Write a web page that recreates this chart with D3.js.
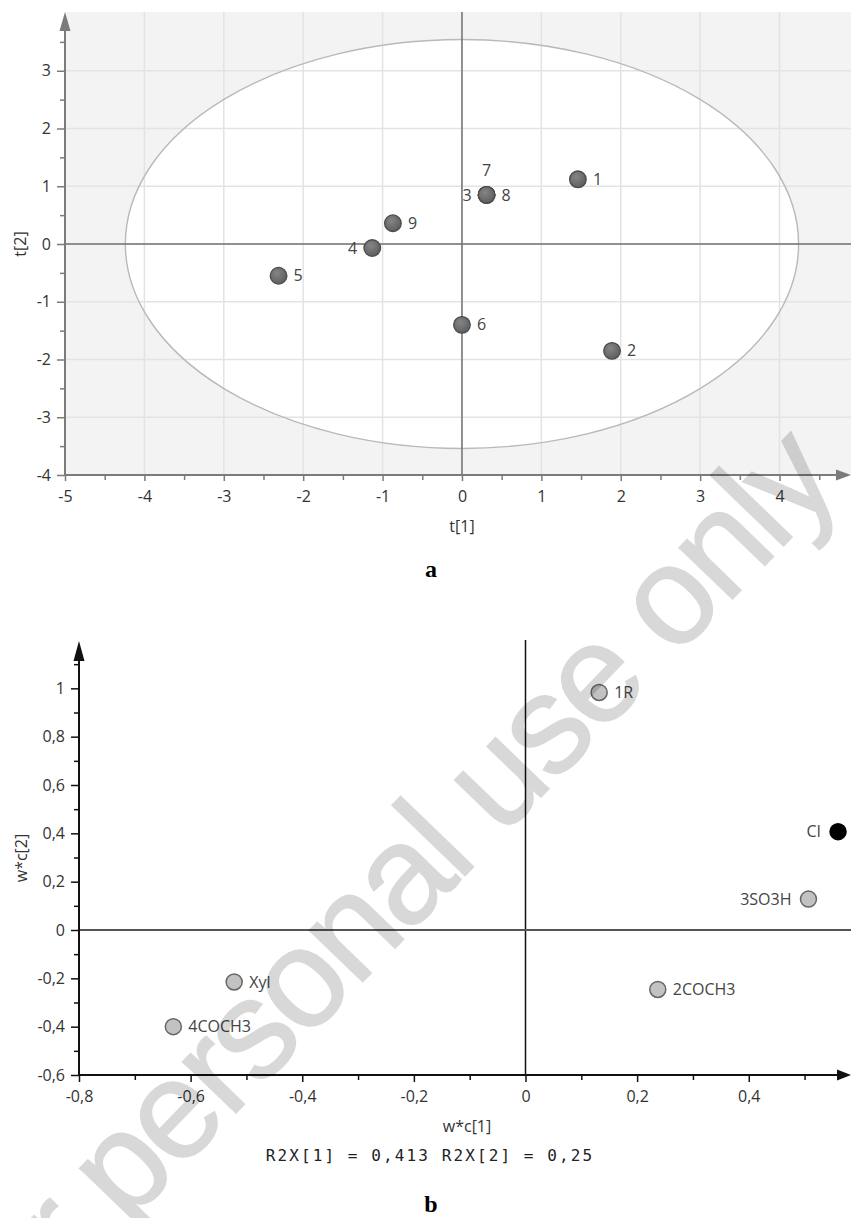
<!DOCTYPE html>
<html>
<head>
<meta charset="utf-8">
<script src="https://cdn.jsdelivr.net/npm/d3@7"></script>
<style>
  html, body { margin: 0; padding: 0; background: #fff; }
  svg { display: block; }
</style>
</head>
<body>
<svg id="chart" width="851" height="1218"></svg>
<script>
// scores plot (a)
const scoreIds = ['1', '2', '3', '4', '5', '6', '7', '8', '9']
const scoreT1 = [1.46, 1.89, 0.31, -1.13, -2.31, 0.0, 0.31, 0.31, -0.87]
const scoreT2 = [1.12, -1.85, 0.85, -0.07, -0.55, -1.40, 0.85, 0.85, 0.36]
const ellipseT1 = 4.24
const ellipseT2 = 3.54
const scoreTicksX = [-5, -4, -3, -2, -1, 0, 1, 2, 3, 4]
const scoreTicksY = [-4, -3, -2, -1, 0, 1, 2, 3]

// loadings plot (b)
const loadingNames = ['1R', 'CI', '3SO3H', '2COCH3', 'Xyl', '4COCH3']
const loadingX = [0.132, 0.56, 0.507, 0.237, -0.522, -0.631]
const loadingY = [0.983, 0.407, 0.128, -0.246, -0.215, -0.40]
const loadingTicksX = [-0.8, -0.6, -0.4, -0.2, 0, 0.2, 0.4]
const loadingTicksY = [-0.6, -0.4, -0.2, 0, 0.2, 0.4, 0.6, 0.8, 1]
const r2x = ['0,413', '0,25']

const FONT = '"Open Sans", "Noto Sans", sans-serif'
const svg = d3.select('#chart')

const fmt = d3.formatLocale({
  decimal: ',', thousands: ' ', grouping: [3], currency: ['', ''], minus: '-'
}).format('.2~f')

function arrowHead(g, x, y, dir, len, half, color) {
  const pts = dir === 'up'
    ? [[x, y], [x - half, y + len], [x + half, y + len]]
    : [[x, y], [x - len, y - half], [x - len, y + half]]
  g.append('path').attr('d', d3.line()(pts) + 'Z').attr('fill', color)
}

function styleAxis(g, lineColor, width) {
  g.select('.domain').remove()
  g.attr('color', lineColor).attr('font-family', FONT).attr('font-size', 16)
  g.selectAll('line').attr('stroke-width', width)
  g.selectAll('text').attr('fill', '#333')
}

function minorTicks(domain, step) {
  const out = []
  for (let v = domain[0]; v <= domain[1] + 1e-9; v += step) out.push(+v.toFixed(3))
  return out
}

// ---------- chart a ----------
function drawScores() {
  const g = svg.append('g')
  const x = d3.scaleLinear().domain([-5, 4.9]).range([65, 851])
  const y = d3.scaleLinear().domain([-4, 4]).range([475, 13])
  const top = 12
  const axisColor = '#7b7b7b'

  g.append('rect')
    .attr('x', x(-5)).attr('y', top)
    .attr('width', x.range()[1] - x(-5)).attr('height', y(-4) - top)
    .attr('fill', '#f3f3f3')

  g.append('ellipse')
    .attr('cx', x(0)).attr('cy', y(0))
    .attr('rx', x(ellipseT1) - x(0)).attr('ry', y(0) - y(ellipseT2))
    .attr('fill', '#fff')

  g.selectAll('line.gx')
    .data(scoreTicksX.slice(1))
    .join('line')
    .attr('x1', (d) => x(d)).attr('x2', (d) => x(d))
    .attr('y1', top).attr('y2', y(-4))
    .attr('stroke', '#e3e3e3').attr('stroke-width', 1.5)

  g.selectAll('line.gy')
    .data(scoreTicksY.slice(1))
    .join('line')
    .attr('x1', x(-5)).attr('x2', x.range()[1])
    .attr('y1', (d) => y(d)).attr('y2', (d) => y(d))
    .attr('stroke', '#e3e3e3').attr('stroke-width', 1.5)

  g.append('ellipse')
    .attr('cx', x(0)).attr('cy', y(0))
    .attr('rx', x(ellipseT1) - x(0)).attr('ry', y(0) - y(ellipseT2))
    .attr('fill', 'none')
    .attr('stroke', '#b9b9b9')
    .attr('stroke-width', 1.4)

  // zero lines
  g.append('line')
    .attr('x1', x(0)).attr('x2', x(0)).attr('y1', top).attr('y2', y(-4))
    .attr('stroke', '#727272').attr('stroke-width', 1.5)
  g.append('line')
    .attr('x1', x(-5)).attr('x2', x.range()[1]).attr('y1', y(0)).attr('y2', y(0))
    .attr('stroke', '#727272').attr('stroke-width', 1.5)

  // axes
  const ya = g.append('g').attr('transform', `translate(${x(-5)},0)`)
    .call(d3.axisLeft(y).tickValues(scoreTicksY).tickSize(8).tickPadding(6).tickFormat(fmt))
  styleAxis(ya, axisColor, 1.5)
  const yb = g.append('g').attr('transform', `translate(${x(-5)},0)`)
    .call(d3.axisLeft(y).tickValues(minorTicks([-3.5, 3.5], 1)).tickSize(5).tickFormat(''))
  styleAxis(yb, axisColor, 1.5)

  const xa = g.append('g').attr('transform', `translate(0,${y(-4)})`)
    .call(d3.axisBottom(x).tickValues(scoreTicksX).tickSize(6).tickPadding(10).tickFormat(fmt))
  styleAxis(xa, axisColor, 1.5)
  const xb = g.append('g').attr('transform', `translate(0,${y(-4)})`)
    .call(d3.axisBottom(x).tickValues(minorTicks([-4.5, 4.5], 1)).tickSize(5).tickFormat(''))
  styleAxis(xb, axisColor, 1.5)

  g.append('line')
    .attr('x1', x(-5)).attr('x2', x(-5)).attr('y1', top + 14).attr('y2', y(-4) + 1)
    .attr('stroke', axisColor).attr('stroke-width', 2)
  g.append('line')
    .attr('x1', x(-5) - 1).attr('x2', 840).attr('y1', y(-4)).attr('y2', y(-4))
    .attr('stroke', axisColor).attr('stroke-width', 2)
  arrowHead(g, x(-5), top, 'up', 19, 5.5, axisColor)
  arrowHead(g, 851, y(-4), 'right', 15, 5.5, axisColor)

  g.append('text')
    .attr('transform', `translate(20,${y(0)}) rotate(-90)`)
    .attr('text-anchor', 'middle').attr('dy', '0.35em')
    .attr('font-family', FONT).attr('font-size', 16).attr('fill', '#333')
    .text('t[2]')
  g.append('text')
    .attr('x', x(0)).attr('y', 526).attr('dy', '0.35em')
    .attr('text-anchor', 'middle')
    .attr('font-family', FONT).attr('font-size', 16).attr('fill', '#333')
    .text('t[1]')

  // points
  const defs = svg.append('defs')
  const grad = defs.append('radialGradient').attr('id', 'darkDot')
    .attr('cx', '40%').attr('cy', '35%').attr('r', '65%')
  grad.append('stop').attr('offset', '0%').attr('stop-color', '#858585')
  grad.append('stop').attr('offset', '100%').attr('stop-color', '#5f5f5f')

  const pts = scoreIds.map((id, i) => ({ id, t1: scoreT1[i], t2: scoreT2[i] }))
  g.selectAll('circle.pt')
    .data(pts)
    .join('circle')
    .attr('cx', (d) => x(d.t1)).attr('cy', (d) => y(d.t2))
    .attr('r', 8.3)
    .attr('fill', 'url(#darkDot)')
    .attr('stroke', '#4b4b4b').attr('stroke-width', 1.3)

  const side = { '3': 'left', '4': 'left', '7': 'up' }
  g.selectAll('text.lbl')
    .data(pts)
    .join('text')
    .attr('x', (d) => x(d.t1) + (side[d.id] === 'left' ? -15 : side[d.id] === 'up' ? 0 : 15))
    .attr('y', (d) => y(d.t2) + (side[d.id] === 'up' ? -25 : 0))
    .attr('dy', '0.35em')
    .attr('text-anchor', (d) => (side[d.id] === 'left' ? 'end' : side[d.id] === 'up' ? 'middle' : 'start'))
    .attr('font-family', FONT).attr('font-size', 16).attr('fill', '#444')
    .text((d) => d.id)

  svg.append('text')
    .attr('x', 431).attr('y', 577)
    .attr('text-anchor', 'middle')
    .attr('font-family', '"Liberation Serif", "Times New Roman", serif')
    .attr('font-weight', 'bold').attr('font-size', 24)
    .text('a')
}

// ---------- chart b ----------
function drawLoadings() {
  const g = svg.append('g')
  const x = d3.scaleLinear().domain([-0.8, 0]).range([79, 525.5])
  const y = d3.scaleLinear().domain([-0.6, 0]).range([1075, 930])
  const axisColor = '#111'

  g.append('line')
    .attr('x1', x(0)).attr('x2', x(0)).attr('y1', 640).attr('y2', y(-0.6))
    .attr('stroke', '#111').attr('stroke-width', 1.5)
  g.append('line')
    .attr('x1', x(-0.8)).attr('x2', 851).attr('y1', y(0)).attr('y2', y(0))
    .attr('stroke', '#555').attr('stroke-width', 2)

  const ya = g.append('g').attr('transform', `translate(${x(-0.8)},0)`)
    .call(d3.axisLeft(y).tickValues(loadingTicksY).tickSize(8).tickPadding(6).tickFormat(fmt))
  styleAxis(ya, axisColor, 1.5)
  const yb = g.append('g').attr('transform', `translate(${x(-0.8)},0)`)
    .call(d3.axisLeft(y).tickValues(minorTicks([-0.5, 1.1], 0.2)).tickSize(5).tickFormat(''))
  styleAxis(yb, axisColor, 1.5)

  const xa = g.append('g').attr('transform', `translate(0,${y(-0.6)})`)
    .call(d3.axisBottom(x).tickValues(loadingTicksX).tickSize(7).tickPadding(9).tickFormat(fmt))
  styleAxis(xa, axisColor, 1.5)
  const xb = g.append('g').attr('transform', `translate(0,${y(-0.6)})`)
    .call(d3.axisBottom(x).tickValues(minorTicks([-0.7, 0.5], 0.2)).tickSize(5).tickFormat(''))
  styleAxis(xb, axisColor, 1.5)

  g.append('line')
    .attr('x1', x(-0.8)).attr('x2', x(-0.8)).attr('y1', 655).attr('y2', y(-0.6) + 1)
    .attr('stroke', axisColor).attr('stroke-width', 2)
  g.append('line')
    .attr('x1', x(-0.8) - 1).attr('x2', 840).attr('y1', y(-0.6)).attr('y2', y(-0.6))
    .attr('stroke', axisColor).attr('stroke-width', 2)
  arrowHead(g, x(-0.8), 641, 'up', 20, 5.5, axisColor)
  arrowHead(g, 851, y(-0.6), 'right', 14, 5.5, axisColor)

  g.append('text')
    .attr('transform', `translate(21,858) rotate(-90)`)
    .attr('text-anchor', 'middle').attr('dy', '0.35em')
    .attr('font-family', FONT).attr('font-size', 16).attr('fill', '#333')
    .text('w*c[2]')
  g.append('text')
    .attr('x', 467).attr('y', 1126).attr('dy', '0.35em')
    .attr('text-anchor', 'middle')
    .attr('font-family', FONT).attr('font-size', 16).attr('fill', '#333')
    .text('w*c[1]')
  g.append('text')
    .attr('x', 430).attr('y', 1155).attr('dy', '0.35em')
    .attr('text-anchor', 'middle')
    .attr('font-family', '"DejaVu Sans Mono", "Liberation Mono", monospace')
    .attr('font-size', 16).attr('letter-spacing', 2.1).attr('fill', '#222')
    .text(`R2X[1] = ${r2x[0]} R2X[2] = ${r2x[1]}`)

  const pts = loadingNames.map((name, i) => ({ name, lx: loadingX[i], ly: loadingY[i] }))
  g.selectAll('circle.pt')
    .data(pts)
    .join('circle')
    .attr('cx', (d) => x(d.lx)).attr('cy', (d) => y(d.ly))
    .attr('r', 8)
    .attr('fill', (d) => (d.name === 'CI' ? '#000' : '#c2c2c2'))
    .attr('stroke', (d) => (d.name === 'CI' ? '#000' : '#666'))
    .attr('stroke-width', 1.5)

  const leftLabels = ['CI', '3SO3H']
  g.selectAll('text.lbl')
    .data(pts)
    .join('text')
    .attr('x', (d) => x(d.lx) + (leftLabels.includes(d.name) ? -17 : 15))
    .attr('y', (d) => y(d.ly))
    .attr('dy', '0.35em')
    .attr('text-anchor', (d) => (leftLabels.includes(d.name) ? 'end' : 'start'))
    .attr('font-family', FONT).attr('font-size', 16).attr('fill', '#444')
    .text((d) => d.name)

  svg.append('text')
    .attr('x', 431).attr('y', 1212)
    .attr('text-anchor', 'middle')
    .attr('font-family', '"Liberation Serif", "Times New Roman", serif')
    .attr('font-weight', 'bold').attr('font-size', 24)
    .text('b')
}

drawScores()
drawLoadings()

// watermark, placed by the centre of the "o" in "only"
const wmSize = 140
const wmSpacing = -4
svg.append('text')
  .attr('transform', 'translate(675,606) rotate(-46)')
  .attr('x', -(8.058 * wmSize + 17 * wmSpacing))
  .attr('dy', '0.26em')
  .attr('font-family', '"Liberation Sans", Arial, sans-serif')
  .attr('font-size', wmSize)
  .attr('letter-spacing', wmSpacing)
  .attr('fill', '#000')
  .attr('stroke', '#000')
  .attr('stroke-width', 1.5)
  .attr('opacity', 0.15)
  .text('For personal use only')
</script>
</body>
</html>
